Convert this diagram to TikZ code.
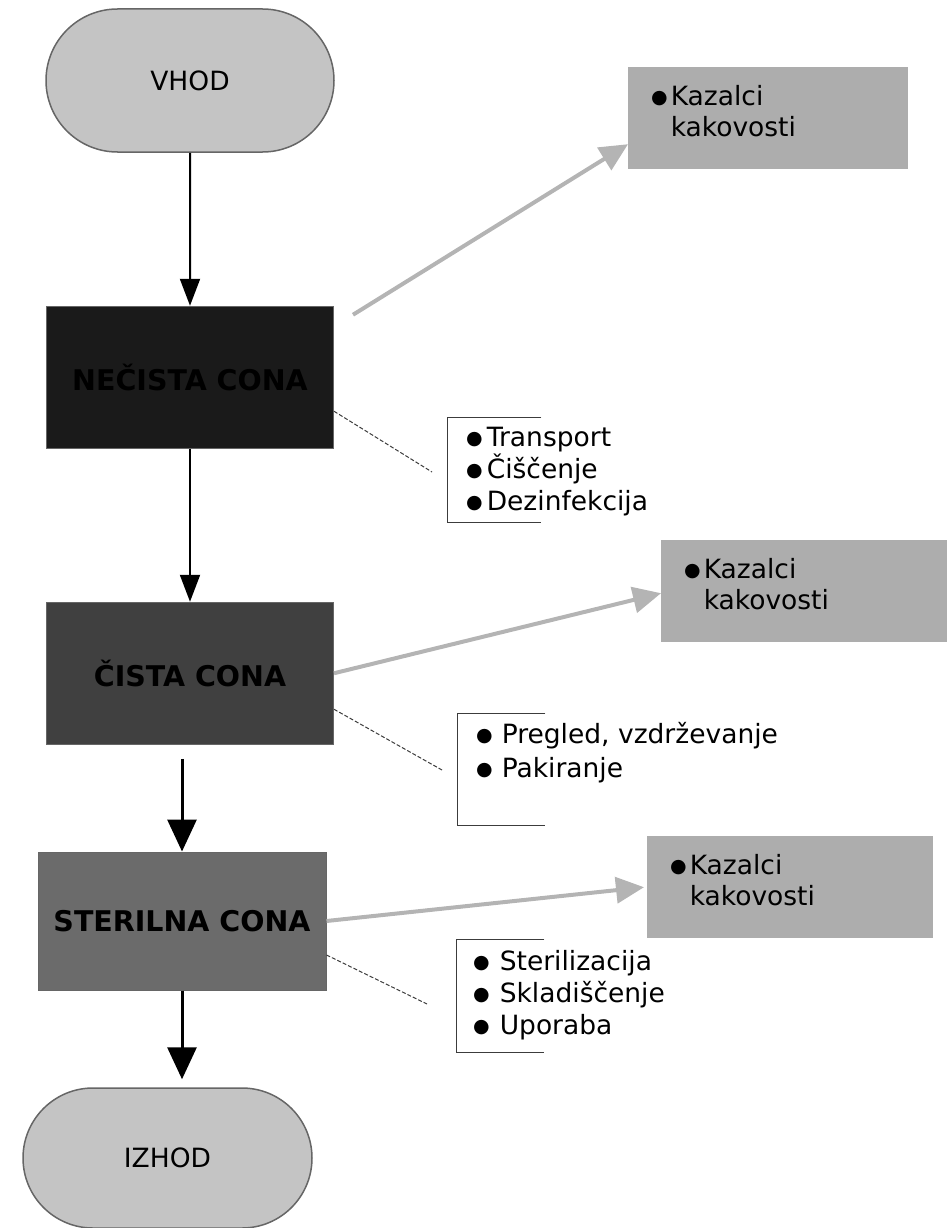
\documentclass[tikz,border=0pt]{standalone}
\usepackage{fontspec}
\setmainfont{DejaVu Sans}
\usetikzlibrary{arrows.meta,positioning,calc,shapes.misc}
\definecolor{SivaTerminal}{RGB}{196,196,196}
\definecolor{SivaRob}{RGB}{102,102,102}
\definecolor{ConaNecista}{RGB}{26,26,26}
\definecolor{ConaCista}{RGB}{64,64,64}
\definecolor{ConaSterilna}{RGB}{107,107,107}
\definecolor{SivaKazalci}{RGB}{173,173,173}
\definecolor{SivaPuscica}{RGB}{180,180,180}
\definecolor{SivaCrta}{RGB}{60,60,60}
\newcommand{\pika}{\raisebox{1.5pt}{\fontsize{19}{19}\selectfont ●}}
\tikzset{
  termbox/.style={rounded rectangle, draw=SivaRob, line width=1.5pt, fill=SivaTerminal,
    minimum width=288pt, minimum height=#1, font=\fontsize{26.5}{32}\selectfont, inner sep=0pt},
  termbox/.default=143pt,
  zonebox/.style={draw=SivaRob, line width=1pt, fill=#1, minimum width=287pt,
    minimum height=142pt, font=\fontsize{28.5}{34}\selectfont\bfseries, inner sep=0pt},
  kazbox/.style={fill=SivaKazalci, anchor=north west, text width=#1, align=left,
    inner xsep=23pt, inner ysep=0pt, text height=38pt, text depth=64pt,
    font=\fontsize{26.5}{31}\selectfont},
  kazbox/.default=240pt,
  brackbox/.style={anchor=north west, minimum width=#1, inner sep=0pt},
  listbox/.style={anchor=base west, align=left, inner sep=0pt,
    font=\fontsize{26.5}{32}\selectfont},
  brackline/.style={draw=SivaCrta, line width=1pt},
  flowarr/.style={-{Triangle[length=27pt, width=20pt]}, line width=2pt, black},
  bigarr/.style={-{Triangle[length=32pt, width=29pt]}, line width=3pt, black},
  kazarr/.style={-{Triangle[length=28pt, width=26pt]}, line width=4pt, SivaPuscica},
  linkdash/.style={draw=SivaCrta, line width=1pt, dash pattern=on 4pt off 2pt},
}

\begin{document}
\begin{tikzpicture}[x=1pt, y=-1pt]
  \useasboundingbox (0,0) rectangle (947,1228);

  % glavni tok
  \node[termbox] (vhod) at (190,80.5) {VHOD};
  \node[zonebox=ConaNecista, below=153pt of vhod] (nec) {NEČISTA CONA};
  \node[zonebox=ConaCista, below=153pt of nec] (cis) {ČISTA CONA};
  \node[zonebox=ConaSterilna, minimum width=288pt, minimum height=138pt] (ster) at (182,921) {STERILNA CONA};
  \node[termbox=140pt, minimum width=289pt] (izh) at (167.5,1158) {IZHOD};

  \draw[flowarr] (vhod) -- (nec);
  \draw[flowarr] (nec) -- (cis);
  \draw[bigarr] ($(cis.south -| ster.north)+(0,14)$) -- (ster.north);
  \draw[bigarr, shorten >=8pt] (ster.south) -- (ster.south |- izh.north);

  % kazalci kakovosti
  \node[kazbox=234pt] (kaz1) at (628,67) {\pika\hspace{3pt}Kazalci\\\phantom{\pika}\hspace{3pt}kakovosti};
  \node[kazbox] (kaz2) at (661,540) {\pika\hspace{3pt}Kazalci\\\phantom{\pika}\hspace{3pt}kakovosti};
  \node[kazbox] (kaz3) at (647,836) {\pika\hspace{3pt}Kazalci\\\phantom{\pika}\hspace{3pt}kakovosti};

  \draw[kazarr] ([xshift=19pt,yshift=-9pt]nec.north east) -- ([yshift=-26pt]kaz1.west);
  \draw[kazarr] (cis.east) -- ([yshift=-2pt]kaz2.west);
  \draw[kazarr] (ster.east) -- ([xshift=-3pt]kaz3.west);

  % opravila po conah
  \node[brackbox=94pt, minimum height=105pt] (br1) at (447,417) {};
  \node[brackbox=88pt, minimum height=112pt] (br2) at (457,713) {};
  \node[brackbox=88pt, minimum height=113pt] (br3) at (456,939) {};
  \foreach \b in {br1,br2,br3}
    \draw[brackline] (\b.north east) -- (\b.north west) -- (\b.south west) -- (\b.south east);

  \node[listbox] (lst1) at (466,510) {\pika\hspace{4pt}Transport\\\pika\hspace{4pt}Čiščenje\\\pika\hspace{4pt}Dezinfekcija};
  \node[listbox] (lst2) at (476,777) {\pika\hspace{9pt}Pregled, vzdrževanje\\[2pt]\pika\hspace{9pt}Pakiranje};
  \node[listbox] (lst3) at (473,1034) {\pika\hspace{10pt}Sterilizacija\\\pika\hspace{10pt}Skladiščenje\\\pika\hspace{10pt}Uporaba};

  \coordinate (d1) at (432,472);
  \coordinate (d2) at (442,770);
  \coordinate (d3) at (427,1004);
  \draw[linkdash] ([yshift=-34pt]nec.east) -- (d1);
  \draw[linkdash] ([yshift=-36pt]cis.east) -- (d2);
  \draw[linkdash] ([yshift=-34pt]ster.east) -- (d3);
\end{tikzpicture}
\end{document}
